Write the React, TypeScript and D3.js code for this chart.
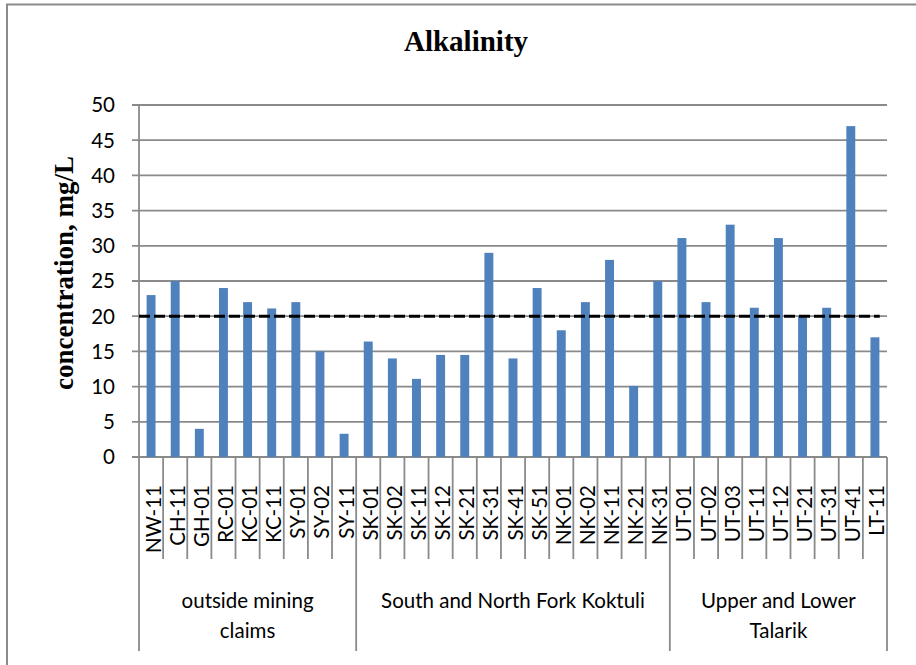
import React from "react";
import * as d3 from "d3";

const categories = [
  "NW-11", "CH-11", "GH-01", "RC-01", "KC-01", "KC-11", "SY-01", "SY-02", "SY-11",
  "SK-01", "SK-02", "SK-11", "SK-12", "SK-21", "SK-31", "SK-41", "SK-51",
  "NK-01", "NK-02", "NK-11", "NK-21", "NK-31",
  "UT-01", "UT-02", "UT-03", "UT-11", "UT-12", "UT-21", "UT-31", "UT-41", "LT-11",
];
const values = [
  23, 25, 4, 24, 22, 21.1, 22, 15, 3.3,
  16.4, 14, 11.1, 14.5, 14.5, 29, 14, 24,
  18, 22, 28, 10.1, 25,
  31.1, 22, 33, 21.2, 31.1, 20, 21.2, 47, 17,
];
const groupLabels = [
  ["outside mining", "claims"],
  ["South and North Fork Koktuli"],
  ["Upper and Lower", "Talarik"],
];
const groupSizes = [9, 13, 9];
const yTicks = [0, 5, 10, 15, 20, 25, 30, 35, 40, 45, 50];
const thresholdValue = 20;

const W = 916;
const H = 665;
const plotLeft = 139;
const plotRight = 887;
const plotTop = 105;
const plotBottom = 457;
const labelFont = "Lato, 'Open Sans', sans-serif";
const serifFont = "'Liberation Serif', 'DejaVu Serif', serif";
const gridColor = "#8a8a8a";
const barColor = "#4F81BD";

export default function App() {
  const y = d3.scaleLinear().domain([0, 50]).range([plotBottom, plotTop]);
  const xb = d3
    .scaleBand<string>()
    .domain(categories)
    .range([plotLeft, plotRight])
    .paddingInner(0.63)
    .paddingOuter(0.315);
  const x0 = d3.scaleBand<string>().domain(categories).range([plotLeft, plotRight]).padding(0);
  const step = x0.step();

  // group boundaries
  const bounds: number[] = [0];
  groupSizes.forEach((s, i) => bounds.push(bounds[i] + s));

  const line = d3
    .line<number>()
    .x((d) => d)
    .y(() => y(thresholdValue));
  const lastX = (x0(categories[categories.length - 1]) as number) + step * 0.7;

  return (
    <svg
      width={W}
      height={H}
      style={{ position: "absolute", left: 0, top: 0, background: "#fff" }}
    >
      <rect x={7} y={4.5} width={W + 10} height={H + 10} fill="#fff" stroke="#8a8a8a" strokeWidth={2} />
      <text
        x={466}
        y={50.5}
        textAnchor="middle"
        fontFamily={serifFont}
        fontWeight="bold"
        fontSize={29}
      >
        Alkalinity
      </text>
      <text
        transform={`translate(73,${(plotTop + plotBottom) / 2 - 8}) rotate(-90)`}
        textAnchor="middle"
        fontFamily={serifFont}
        fontWeight="bold"
        fontSize={27}
      >
        concentration, mg/L
      </text>

      {/* gridlines + y ticks */}
      {yTicks.map((t) => (
        <g key={t}>
          <line
            x1={plotLeft - 7}
            x2={plotRight}
            y1={y(t)}
            y2={y(t)}
            stroke={gridColor}
            strokeWidth={1.8}
          />
          <text
            x={115}
            y={y(t)}
            dy="0.36em"
            textAnchor="end"
            fontFamily={labelFont}
            fontSize={20.5}
          >
            {t}
          </text>
        </g>
      ))}
      <line x1={plotLeft} x2={plotLeft} y1={plotTop} y2={plotBottom} stroke={gridColor} strokeWidth={1.8} />

      {/* bars */}
      {categories.map((c, i) => (
        <rect
          key={c}
          x={xb(c)}
          y={y(values[i])}
          width={xb.bandwidth()}
          height={y(0) - y(values[i])}
          fill={barColor}
        />
      ))}

      {/* threshold */}
      <path
        d={line([plotLeft, lastX]) || ""}
        stroke="#000"
        strokeWidth={3}
        strokeDasharray="11,4"
        fill="none"
      />

      {/* category separators */}
      {d3.range(categories.length + 1).map((i) => {
        const xx = plotLeft + i * step;
        const isGroup = bounds.includes(i);
        return (
          <line
            key={i}
            x1={xx}
            x2={xx}
            y1={plotBottom}
            y2={isGroup ? 651 : 559}
            stroke={gridColor}
            strokeWidth={1.8}
          />
        );
      })}

      {/* category labels */}
      {categories.map((c) => {
        const cx = (x0(c) as number) + step / 2;
        return (
          <text
            key={c}
            transform={`translate(${cx + 9.5},485) rotate(-90)`}
            textAnchor="end"
            fontFamily={labelFont}
            fontSize={20.5}
          >
            {c}
          </text>
        );
      })}

      {/* group labels */}
      {groupLabels.map((lines, gi) => {
        const gx = plotLeft + ((bounds[gi] + bounds[gi + 1]) / 2) * step;
        return (
          <text key={gi} textAnchor="middle" fontFamily={labelFont} fontSize={20.5}>
            {lines.map((l, li) => (
              <tspan key={li} x={gx} y={608 + li * 30}>
                {l}
              </tspan>
            ))}
          </text>
        );
      })}
    </svg>
  );
}
